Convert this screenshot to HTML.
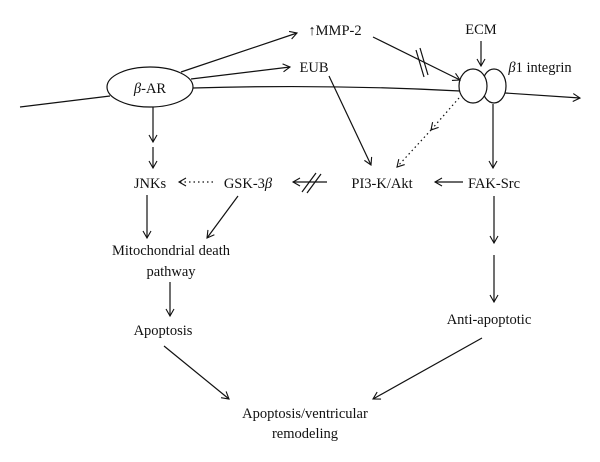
<!DOCTYPE html>
<html><head><meta charset="utf-8"><style>
html,body{margin:0;padding:0;background:#fff;}
svg{display:block;}
text{font-family:"Liberation Serif",serif;font-size:14.5px;fill:#111;}
</style></head><body>
<svg width="600" height="462" viewBox="0 0 600 462" xmlns="http://www.w3.org/2000/svg">
<defs>
<marker id="a" markerWidth="10" markerHeight="10" refX="8" refY="5" orient="auto" markerUnits="userSpaceOnUse">
<path d="M1,1 L8,5 L1,9" fill="none" stroke="#111" stroke-width="1.1"/></marker>
</defs>
<g stroke="#111" stroke-width="1.2" fill="none">
<!-- membrane -->
<line x1="20" y1="107" x2="110" y2="96"/>
<path d="M193,88 Q330,84 460,91"/>
<line x1="505" y1="93" x2="580" y2="98" marker-end="url(#a)"/>
<ellipse cx="150" cy="87" rx="43" ry="20"/>
<ellipse cx="494" cy="86" rx="12" ry="17"/>
<ellipse cx="473" cy="86" rx="14" ry="17" fill="#fff"/>
<!-- arrows -->
<line x1="181" y1="72" x2="297" y2="33" marker-end="url(#a)"/>
<line x1="191" y1="79" x2="290" y2="67" marker-end="url(#a)"/>
<line x1="373" y1="37" x2="460" y2="80" marker-end="url(#a)"/>
<line x1="416" y1="50" x2="424" y2="77"/><line x1="420" y1="48" x2="428" y2="75"/>
<line x1="481" y1="41" x2="481" y2="66" marker-end="url(#a)"/>
<line x1="329" y1="76" x2="371" y2="165" marker-end="url(#a)"/>
<line x1="459" y1="98" x2="431" y2="130" stroke-dasharray="1.5,3" marker-end="url(#a)"/>
<line x1="431" y1="130" x2="397" y2="167" stroke-dasharray="1.5,3" marker-end="url(#a)"/>
<line x1="493" y1="104" x2="493" y2="168" marker-end="url(#a)"/>
<line x1="153" y1="107" x2="153" y2="142" marker-end="url(#a)"/>
<line x1="153" y1="147" x2="153" y2="168" marker-end="url(#a)"/>
<line x1="213" y1="182" x2="179" y2="182" stroke-dasharray="1.5,3" marker-end="url(#a)"/>
<line x1="463" y1="182" x2="435" y2="182" marker-end="url(#a)"/>
<line x1="327" y1="182" x2="293" y2="182" marker-end="url(#a)"/>
<line x1="302" y1="192" x2="316" y2="173"/><line x1="307" y1="193" x2="321" y2="174"/>
<line x1="147" y1="195" x2="147" y2="238" marker-end="url(#a)"/>
<line x1="238" y1="196" x2="207" y2="238" marker-end="url(#a)"/>
<line x1="170" y1="282" x2="170" y2="316" marker-end="url(#a)"/>
<line x1="494" y1="196" x2="494" y2="243" marker-end="url(#a)"/>
<line x1="494" y1="255" x2="494" y2="302" marker-end="url(#a)"/>
<line x1="164" y1="346" x2="229" y2="399" marker-end="url(#a)"/>
<line x1="482" y1="338" x2="373" y2="399" marker-end="url(#a)"/>
</g>
<g text-anchor="middle">
<text x="150" y="93"><tspan font-style="italic">β</tspan>-AR</text>
<text x="335" y="35">↑MMP-2</text>
<text x="481" y="34">ECM</text>
<text x="540" y="72"><tspan font-style="italic">β</tspan>1 integrin</text>
<text x="314" y="72">EUB</text>
<text x="150" y="188">JNKs</text>
<text x="248" y="188">GSK-3<tspan font-style="italic">β</tspan></text>
<text x="382" y="188">PI3-K/Akt</text>
<text x="494" y="188">FAK-Src</text>
<text x="171" y="255">Mitochondrial death</text>
<text x="171" y="276">pathway</text>
<text x="163" y="335">Apoptosis</text>
<text x="489" y="324">Anti-apoptotic</text>
<text x="305" y="418">Apoptosis/ventricular</text>
<text x="305" y="438">remodeling</text>
</g>
</svg>
</body></html>
